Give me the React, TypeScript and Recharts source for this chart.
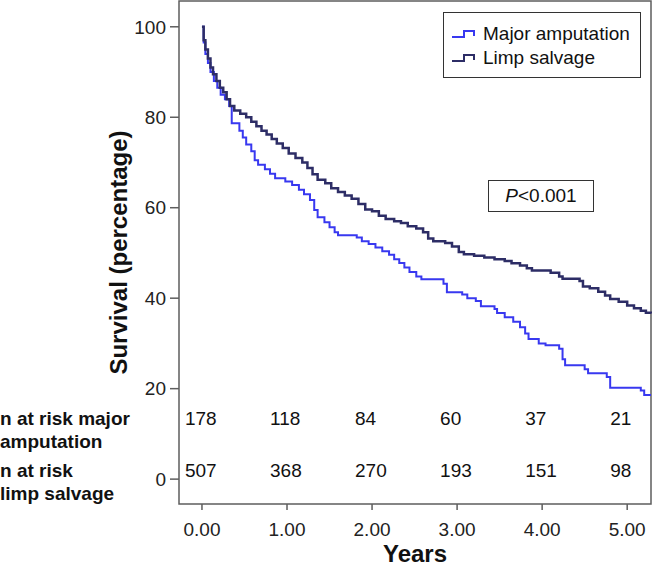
import React from 'react';
import { ComposedChart, Line, Scatter, XAxis, YAxis, ReferenceArea, Legend } from 'recharts';

// Kaplan-Meier steps (years, survival %)
const majorTime = [0, 0.02, 0.04, 0.07, 0.1, 0.14, 0.18, 0.22, 0.27, 0.32, 0.35, 0.44, 0.48, 0.52, 0.58, 0.62, 0.66, 0.74, 0.8, 0.86, 0.98, 1.06, 1.14, 1.2, 1.27, 1.32, 1.36, 1.44, 1.5, 1.56, 1.6, 1.82, 1.88, 1.96, 2.04, 2.12, 2.2, 2.26, 2.32, 2.38, 2.44, 2.52, 2.58, 2.84, 2.88, 3.06, 3.12, 3.22, 3.28, 3.44, 3.47, 3.56, 3.66, 3.74, 3.8, 3.84, 3.96, 4.04, 4.2, 4.24, 4.27, 4.5, 4.54, 4.76, 4.8, 5.16, 5.2, 5.28];
const majorSurv = [100, 96.5, 94, 92, 90, 88, 86.5, 85, 84, 82.5, 78.7, 77, 75.5, 74, 72.5, 70.5, 69.5, 68.5, 67.5, 66.5, 65.8, 65, 64, 63, 61.7, 59.5, 57.9, 56.8, 55.7, 54.6, 53.9, 53.4, 52.6, 52, 51.2, 50.4, 49.6, 48.6, 47.8, 46.8, 45.8, 44.8, 44.2, 43.2, 41.3, 40.8, 40, 39.4, 38.2, 37.6, 36.7, 35.8, 34.8, 33.6, 32.2, 31, 30, 29.6, 28.8, 26.5, 25.2, 24.3, 23.4, 22.6, 20.2, 19.6, 18.6, 18.6];

const limbTime = [0, 0.02, 0.04, 0.07, 0.1, 0.13, 0.17, 0.21, 0.25, 0.29, 0.33, 0.38, 0.45, 0.52, 0.58, 0.64, 0.7, 0.76, 0.82, 0.88, 0.95, 1.02, 1.1, 1.18, 1.24, 1.3, 1.36, 1.45, 1.52, 1.6, 1.68, 1.76, 1.84, 1.92, 2.0, 2.08, 2.16, 2.26, 2.34, 2.42, 2.52, 2.6, 2.66, 2.72, 2.86, 2.94, 3.02, 3.08, 3.2, 3.32, 3.44, 3.56, 3.64, 3.74, 3.82, 3.88, 4.1, 4.2, 4.24, 4.44, 4.48, 4.56, 4.66, 4.74, 4.8, 4.9, 5.0, 5.08, 5.16, 5.22, 5.28];
const limbSurv = [100, 97, 95, 93, 91, 89.5, 88, 86.5, 85.5, 84, 82.5, 81.5, 80.8, 80, 79, 78, 77, 76.2, 75.2, 74.2, 73.2, 72, 71, 70, 68.8, 67.4, 66.2, 65.4, 64.3, 63.5, 62.7, 62, 60.8, 59.6, 59.2, 58.2, 57.5, 57, 56.6, 55.9, 55.4, 54.6, 53.2, 52.6, 52.2, 51.4, 50.2, 49.7, 49.4, 49.0, 48.6, 48.2, 47.7, 47.2, 46.6, 46.1, 45.6, 44.8, 44.3, 43.8, 42.6, 42.2, 41.4, 40.6, 39.8, 39.2, 38.4, 37.8, 37.2, 36.8, 36.6];

// numbers at risk
const riskYears = [0, 1, 2, 3, 4, 5];
const majorRisk = [178, 118, 84, 60, 37, 21];
const limbRisk = [507, 368, 270, 193, 151, 98];
const majorRiskTitle = ['n at risk major', 'amputation'];
const limbRiskTitle = ['n at risk', 'limp salvage'];

const seriesNames = ['Major amputation', 'Limp salvage'];
const xTicks = [0, 1, 2, 3, 4, 5];
const yTicks = [0, 20, 40, 60, 80, 100];

const X_DOMAIN = [-0.27, 5.28];
const Y_DOMAIN = [-5.5, 105.7];
const FONT = '"Liberation Sans", Arial, Helvetica, sans-serif';
const BLUE = '#3838f0';
const NAVY = '#2d2d66';
const AXIS = '#5e5e5e';

const majorData = majorTime.map((t, i) => ({ t, s: majorSurv[i] }));
const limbData = limbTime.map((t, i) => ({ t, s: limbSurv[i] }));
const riskData = [
  ...riskYears.map((t, i) => ({ t, row: 13.5, n: majorRisk[i], title: i === 0 ? majorRiskTitle : null })),
  ...riskYears.map((t, i) => ({ t, row: 1.8, n: limbRisk[i], title: i === 0 ? limbRiskTitle : null })),
];

const RiskText = (props: any) => {
  const { cx, cy, payload } = props;
  return (
    <g fontFamily={FONT} fontSize={19} fill="#111">
      {payload.title &&
        payload.title.map((line: string, i: number) => (
          <text key={line} x={0} y={cy + i * 23} dominantBaseline="central" fontWeight="bold">
            {line}
          </text>
        ))}
      <text x={cx - 17} y={cy} dominantBaseline="central">
        {payload.n}
      </text>
    </g>
  );
};

const renderLegend = (props: any) => {
  const items = (props.payload || [])
    .filter((e: any) => seriesNames.includes(e.value))
    .sort((a: any, b: any) => seriesNames.indexOf(a.value) - seriesNames.indexOf(b.value));
  return (
    <div
      style={{
        border: '1px solid #333',
        width: 198,
        height: 66,
        boxSizing: 'border-box',
        background: '#fff',
        padding: '9px 0 0 7px',
        fontFamily: FONT,
        fontSize: 19,
        color: '#111',
      }}
    >
      {items.map((e: any) => (
        <div key={e.value} style={{ display: 'flex', alignItems: 'center', height: 24 }}>
          <svg width={26} height={12}>
            <path d="M1,9 H13 V3 H23 V8" stroke={e.color} strokeWidth={2} fill="none" />
          </svg>
          <span style={{ marginLeft: 6, lineHeight: '24px' }}>{e.value}</span>
        </div>
      ))}
    </div>
  );
};

export default function App() {
  return (
    <div style={{ position: 'absolute', left: 0, top: 0, width: 652, height: 566, background: '#fff' }}>
      <ComposedChart width={652} height={566} margin={{ top: 1, right: 1, bottom: 0, left: 0 }}>
        <XAxis
          dataKey="t"
          type="number"
          domain={X_DOMAIN}
          ticks={xTicks}
          tickFormatter={(v: number) => v.toFixed(2)}
          height={62}
          axisLine={false}
          tickSize={6}
          tickMargin={13}
          tickLine={{ stroke: AXIS, strokeWidth: 1.5 }}
          tick={{ fill: '#222', fontSize: 19, fontFamily: FONT }}
          label={{
            content: (p: any) => (
              <text
                x={p.viewBox.x + p.viewBox.width / 2}
                y={553}
                textAnchor="middle"
                dominantBaseline="central"
                fontFamily={FONT}
                fontWeight="bold"
                fontSize={24}
                fill="#111"
              >
                Years
              </text>
            ),
          }}
        />
        <YAxis
          type="number"
          domain={Y_DOMAIN}
          ticks={yTicks}
          width={179}
          axisLine={false}
          tickSize={9}
          tickMargin={4}
          tickLine={{ stroke: AXIS, strokeWidth: 1.5 }}
          tick={{ fill: '#222', fontSize: 19, fontFamily: FONT }}
          label={{
            content: (p: any) => {
              const cy = p.viewBox.y + p.viewBox.height / 2;
              return (
                <text
                  x={118}
                  y={cy}
                  transform={`rotate(-90 118 ${cy})`}
                  textAnchor="middle"
                  dominantBaseline="central"
                  fontFamily={FONT}
                  fontWeight="bold"
                  fontSize={24}
                  fill="#111"
                >
                  Survival (percentage)
                </text>
              );
            },
          }}
        />
        <ReferenceArea
          x1={X_DOMAIN[0]}
          x2={X_DOMAIN[1]}
          y1={Y_DOMAIN[0]}
          y2={Y_DOMAIN[1]}
          fill="none"
          stroke={AXIS}
          strokeWidth={1.5}
          ifOverflow="visible"
        />
        <Line
          data={majorData}
          dataKey="s"
          name="Major amputation"
          type="stepAfter"
          stroke={BLUE}
          strokeWidth={2}
          dot={false}
          isAnimationActive={false}
        />
        <Line
          data={limbData}
          dataKey="s"
          name="Limp salvage"
          type="stepAfter"
          stroke={NAVY}
          strokeWidth={2.5}
          dot={false}
          isAnimationActive={false}
        />
        <Scatter
          data={riskData}
          dataKey="row"
          name="risk"
          shape={RiskText}
          legendType="none"
          isAnimationActive={false}
        />
        <Legend
          layout="vertical"
          align="center"
          verticalAlign="middle"
          content={renderLegend}
          wrapperStyle={{ left: 443, top: 12, width: 198, height: 66 }}
        />
      </ComposedChart>
      <div
        style={{
          position: 'absolute',
          left: 488,
          top: 180,
          width: 106,
          height: 32,
          boxSizing: 'border-box',
          border: '1px solid #333',
          fontFamily: FONT,
          fontSize: 19,
          color: '#111',
          display: 'flex',
          alignItems: 'center',
          justifyContent: 'center',
        }}
      >
        <i>P</i>&lt;0.001
      </div>
    </div>
  );
}
